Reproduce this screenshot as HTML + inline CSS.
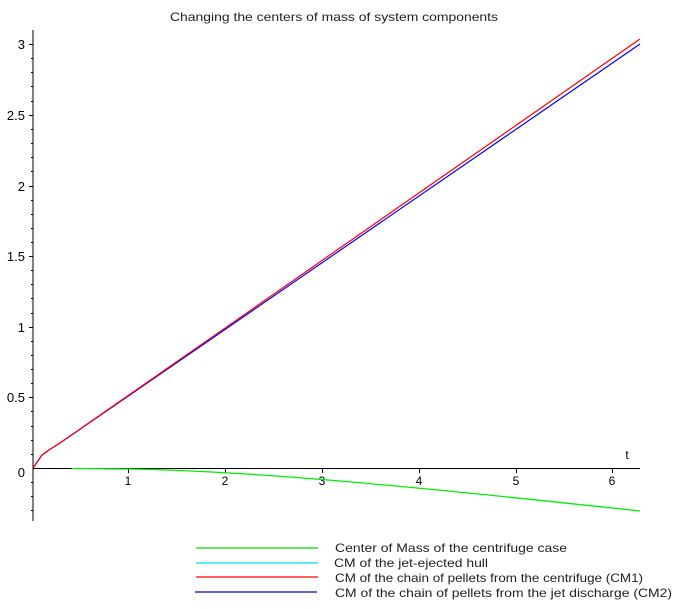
<html><body style="margin:0;background:#fff">
<svg width="684" height="609" xmlns="http://www.w3.org/2000/svg" font-family="Liberation Sans, sans-serif">
<text x="170" y="21" font-size="12" textLength="328" lengthAdjust="spacingAndGlyphs" fill="#222">Changing the centers of mass of system components</text>
<g stroke="#000" stroke-width="1">
<line x1="33" y1="30" x2="33" y2="521"/>
<line x1="33" y1="468.5" x2="640" y2="468.5"/>
<g>
<line x1="29" y1="44.5" x2="33" y2="44.5"/><line x1="29" y1="115.5" x2="33" y2="115.5"/><line x1="29" y1="186.5" x2="33" y2="186.5"/><line x1="29" y1="256.5" x2="33" y2="256.5"/><line x1="29" y1="327.5" x2="33" y2="327.5"/><line x1="29" y1="397.5" x2="33" y2="397.5"/>
<line x1="31" y1="58.5" x2="33" y2="58.5"/><line x1="31" y1="72.5" x2="33" y2="72.5"/><line x1="31" y1="86.5" x2="33" y2="86.5"/><line x1="31" y1="101.5" x2="33" y2="101.5"/>
<line x1="31" y1="129.5" x2="33" y2="129.5"/><line x1="31" y1="143.5" x2="33" y2="143.5"/><line x1="31" y1="157.5" x2="33" y2="157.5"/><line x1="31" y1="171.5" x2="33" y2="171.5"/>
<line x1="31" y1="200.5" x2="33" y2="200.5"/><line x1="31" y1="214.5" x2="33" y2="214.5"/><line x1="31" y1="228.5" x2="33" y2="228.5"/><line x1="31" y1="242.5" x2="33" y2="242.5"/>
<line x1="31" y1="270.5" x2="33" y2="270.5"/><line x1="31" y1="284.5" x2="33" y2="284.5"/><line x1="31" y1="298.5" x2="33" y2="298.5"/><line x1="31" y1="313.5" x2="33" y2="313.5"/>
<line x1="31" y1="341.5" x2="33" y2="341.5"/><line x1="31" y1="355.5" x2="33" y2="355.5"/><line x1="31" y1="369.5" x2="33" y2="369.5"/><line x1="31" y1="383.5" x2="33" y2="383.5"/>
<line x1="31" y1="411.5" x2="33" y2="411.5"/><line x1="31" y1="426.5" x2="33" y2="426.5"/><line x1="31" y1="440.5" x2="33" y2="440.5"/><line x1="31" y1="454.5" x2="33" y2="454.5"/>
<line x1="31" y1="482.5" x2="33" y2="482.5"/><line x1="31" y1="496.5" x2="33" y2="496.5"/><line x1="31" y1="510.5" x2="33" y2="510.5"/>
</g>
<g>
<line x1="128.5" y1="468" x2="128.5" y2="473"/><line x1="225.5" y1="468" x2="225.5" y2="473"/><line x1="322.5" y1="468" x2="322.5" y2="473"/><line x1="419.5" y1="468" x2="419.5" y2="473"/><line x1="516.5" y1="468" x2="516.5" y2="473"/><line x1="612.5" y1="468" x2="612.5" y2="473"/>
</g>
</g>
<g font-size="13" fill="#000" text-anchor="end">
<text x="25" y="49">3</text><text x="25" y="120">2.5</text><text x="25" y="191">2</text><text x="25" y="261">1.5</text><text x="25" y="332">1</text><text x="25" y="402">0.5</text><text x="25" y="477">0</text>
</g>
<g font-size="12" fill="#000" text-anchor="middle">
<text x="128" y="485">1</text><text x="225" y="485">2</text><text x="322" y="485">3</text><text x="419" y="485">4</text><text x="516" y="485">5</text><text x="612" y="485">6</text>
<text x="627" y="459">t</text>
</g>
<path d="M72,468.5 L130,469 C250,471 400,485 640,511" fill="none" stroke="#00ee00" stroke-width="1.3"/>
<path d="M33,468 L42,455 C50,449 52,448 60,443 L640,44" fill="none" stroke="#0000ff" stroke-width="1.2"/>
<path d="M33,468 L42,455 C50,449 52,448 60,443 L640,39" fill="none" stroke="#ff0000" stroke-width="1.2"/>
<g stroke-width="1.3">
<line x1="196" y1="548" x2="318" y2="548" stroke="#00dd00"/>
<line x1="196" y1="563" x2="318" y2="563" stroke="#00dddd"/>
<line x1="196" y1="577" x2="318" y2="577" stroke="#ff0000"/>
<line x1="195" y1="592" x2="317" y2="592" stroke="#0000cc"/>
</g>
<g font-size="12" fill="#222" lengthAdjust="spacingAndGlyphs">
<text x="335" y="552" textLength="232" lengthAdjust="spacingAndGlyphs">Center of Mass of the centrifuge case</text>
<text x="334" y="567" textLength="154" lengthAdjust="spacingAndGlyphs">CM of the jet-ejected hull</text>
<text x="335" y="582" textLength="308" lengthAdjust="spacingAndGlyphs">CM of the chain of pellets from the centrifuge (CM1)</text>
<text x="335" y="597" textLength="337" lengthAdjust="spacingAndGlyphs">CM of the chain of pellets from the jet discharge (CM2)</text>
</g>
</svg>
</body></html>
